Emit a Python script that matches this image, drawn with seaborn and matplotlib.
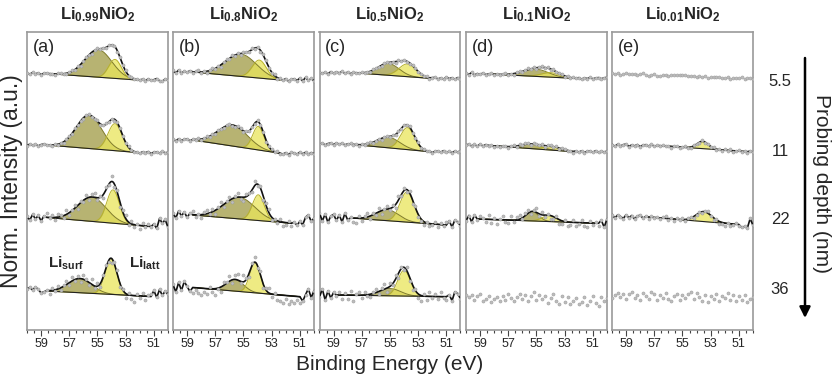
import numpy as np
import matplotlib
matplotlib.use('Agg')
import matplotlib.pyplot as plt
from matplotlib.patches import FancyArrowPatch
from matplotlib.ticker import MultipleLocator
import seaborn as sns

# Li 1s spektren, 5 proben x 4 informationstiefen
titles = [r'$\mathbf{Li_{0.99}NiO_2}$', r'$\mathbf{Li_{0.8}NiO_2}$', r'$\mathbf{Li_{0.5}NiO_2}$',
          r'$\mathbf{Li_{0.1}NiO_2}$', r'$\mathbf{Li_{0.01}NiO_2}$']
letters = ['(a)', '(b)', '(c)', '(d)', '(e)']
depths = ['5.5', '11', '22', '36']
xticks = [59, 57, 55, 53, 51]

# fit-komponenten [probe][tiefe]: position (eV), hoehe, breite (sigma)
surf_pos = [[54.94, 55.6, 55.4, 56.24], [55.18, 55.77, 55.3, 55.6], [55.1, 55.1, 55.18, 55.0],
            [55.06, 55.4, 55.3, 55.0], [55.0, 55.0, 55.0, 55.0]]
surf_amp = [[2.75, 3.33, 2.43, 1.42], [2.23, 2.1, 2.17, 1.17], [1.17, 1.06, 1.1, 0.73],
            [0.73, 0.45, 0.93, 0.0], [0.0, 0.0, 0.0, 0.0]]
surf_wid = [[0.95, 0.9, 1.0, 0.85], [1.1, 1.05, 1.1, 0.6], [0.75, 0.8, 0.8, 0.75],
            [0.9, 0.7, 0.45, 0.5], [0.5, 0.5, 0.5, 0.5]]
latt_pos = [[53.76, 53.76, 53.9, 54.04], [53.88, 53.95, 53.95, 54.18], [53.76, 53.76, 53.8, 54.0],
            [54.0, 53.88, 54.1, 54.0], [54.0, 53.57, 53.48, 54.0]]
latt_amp = [[1.9, 2.7, 3.33, 3.57], [1.8, 2.35, 2.57, 3.0], [1.27, 2.2, 3.0, 2.57],
            [0.45, 0.33, 0.6, 0.0], [0.0, 0.73, 1.0, 0.0]]
latt_wid = [[0.45, 0.5, 0.45, 0.42], [0.5, 0.4, 0.42, 0.38], [0.6, 0.5, 0.5, 0.45],
            [0.65, 0.65, 0.5, 0.5], [0.5, 0.4, 0.55, 0.5]]

# untergrund: niveau am hohen / niedrigen ende des fitbereichs
bg_hi = [[25.65, 18.5, 11.25, 3.9], [25.8, 19.0, 11.5, 4.25], [25.73, 18.6, 11.2, 3.5],
         [25.6, 18.45, 11.1, 3.25], [25.6, 18.45, 11.3, 3.4]]
bg_lo = [[25.0, 17.75, 10.35, 3.35], [25.0, 17.67, 10.67, 3.33], [25.17, 17.83, 10.5, 3.33],
         [25.17, 17.83, 10.67, 3.05], [25.2, 17.83, 10.55, 3.25]]
fit_hi = [[58.6, 58.6, 58.6, 58.6], [58.6, 58.6, 58.6, 58.6], [57.6, 58.0, 57.8, 58.8],
          [58.4, 58.4, 59.2, 60.0], [60.0, 56.8, 57.4, 60.0]]
fit_lo = [[52.2, 52.2, 51.2, 51.2], [52.4, 52.4, 51.6, 51.0], [52.2, 52.2, 51.0, 51.0],
          [52.4, 52.4, 50.6, 50.0], [50.0, 50.4, 51.0, 50.0]]
fitted = [[1, 1, 1, 1], [1, 1, 1, 1], [1, 1, 1, 1], [1, 1, 1, 0], [0, 1, 1, 0]]

# messpunkte minus fit, in 1/100, von 60 eV bis 50 eV
resid_a = [
    [5, -8, 10, -4, 6, -12, 3, 9, -6, 2, -10, 7, 12, -3, -9, 4, 15, -6, 8, -11,
     3, 10, -5, -14, 6, 11, -2, 8, -9, 13, -4, 5, -12, 7, -3, 10, -8, 4, -6, 9,
     -2, 6, -10, 12, -4, 3, 14, -8, -15, 10, -5],
    [-6, 9, -3, 7, -10, 4, 8, -5, 2, -9, 11, -4, 6, -12, 3, 9, -7, 14, -2, 5,
     -11, 8, 13, -6, -3, 10, -9, 4, 12, -5, 7, -13, 2, 9, -4, -8, 11, 3, -6, 5,
     -10, 7, -3, 9, -12, 4, 6, -7, 10, -4, 2],
    [10, -25, 30, -15, 20, -35, 15, 40, -10, 25, -30, 35, 15, -20, 40, -25, 10, 30, -40, 20,
     -15, 35, -30, 25, 45, -20, 15, -35, 30, -10, 50, -25, 20, -40, 15, 35, -30, 25, -20, 10,
     -35, 30, -15, 20, -10, 25, -20, 80, 30, 70, -10],
    [20, 35, 10, 40, 15, -20, -10, 5, -30, 20, -15, 30, -25, 10, 35, -20, 40, -10, 25, -35,
     45, 15, -30, 50, -20, 30, -40, 20, 35, -15, -45, 25, 40, -30, 10, -50, 20, -35, -60, 15,
     -25, 30, -40, 10, 20, 60, -10, 70, 10, 55, 20],
]
resid_b = [
    [15, -10, 20, -12, 8, -5, 12, -15, 6, 18, -8, 10, -14, 5, 16, -9, 12, -18, 7, 14,
     -6, 20, -12, 9, -16, 11, 5, -10, 15, -7, 12, -14, 8, 17, -9, -5, 13, -11, 6, -8,
     10, -15, 7, 12, -6, 20, -10, 25, -5, 15, -8],
    [8, -10, 12, -6, 5, 10, -12, 7, -4, 11, -8, 3, 14, -9, 6, -11, 10, 4, -13, 8,
     12, -5, -10, 9, 6, -14, 11, -3, 8, -10, 13, -6, 4, -12, 9, 7, -8, 11, -5, -10,
     6, -13, 8, 4, -9, 12, -6, 10, -12, 7, -4],
    [20, -30, 40, -10, 30, -25, 15, 35, -20, 10, -35, 25, 40, -15, 30, -40, 20, 45, -25, 10,
     35, -30, 15, 40, -20, -35, 30, 10, -25, 45, -15, 25, -40, 20, 35, -30, 10, -20, 30, -35,
     -25, 15, -30, 10, -20, 20, -15, 60, 85, 20, 50],
    [30, -45, 50, -30, 60, 10, -40, -60, -20, -50, -70, -40, -55, 20, -35, -60, -10, -45, 30, 10,
     50, -30, 40, 60, -20, 70, 15, -40, 30, 50, -25, 40, -35, 20, 45, -30, 10, -50, -60, -75,
     -40, -80, -55, -70, -35, -60, -45, 20, 80, -10, 60],
]
resid_c = [
    [6, -8, 4, -12, 10, -5, 8, -3, 12, -7, 5, -10, 9, 3, -6, 11, -8, 4, -11, 7,
     10, -4, -9, 6, 12, -7, 3, -10, 8, -5, 11, -3, -12, 6, 9, -8, 4, -6, 10, -11,
     5, 8, -7, 3, -9, 12, -4, 6, -10, 7, -3],
    [-5, 8, -10, 4, 9, -6, 11, -3, 7, -9, 3, 10, -7, 5, -12, 8, -4, 6, 11, -8,
     -3, 9, -11, 6, 4, -9, 12, -5, 7, -10, 8, -4, 10, -7, -3, 11, -8, 5, -6, 9,
     -10, 4, 7, -5, 10, -8, 3, -11, 6, -4, 8],
    [50, -30, 40, -45, 20, 35, -25, 30, -40, 45, -20, 10, -35, -50, 25, -30, 15, 35, -25, 20,
     -15, 40, -30, 10, 35, -20, 25, -35, 45, -10, 30, -25, 20, -40, 15, -30, -20, -35, 10, -25,
     -15, 20, -30, 15, -10, 25, 40, -20, 50, 30, -10],
    [-20, 60, -50, 40, -30, 25, -15, 30, -40, 20, -35, 45, -60, 15, 30, -25, 35, -10, -30, 20,
     40, -20, 25, 50, -35, 30, -15, 40, -45, 20, -25, 35, -30, -50, 15, -40, -55, 25, -35, 40,
     -20, 30, -25, 45, -15, -30, 20, -40, 50, 30, -20],
]
resid_d = [
    [8, -6, 15, -10, 4, -5, 9, -7, 3, 10, -4, 8, -9, 5, 12, -6, 3, -10, 7, 11,
     -5, 9, 14, -3, 8, -11, 6, 12, -4, 7, -9, 10, -5, 3, 11, -7, 4, -8, 9, -3,
     6, -10, 5, -4, 8, -6, 3, 7, -5, 4, 10],
    [6, 12, -5, 10, -8, 14, -6, 9, -10, 3, -7, 5, -9, 8, 4, -11, 7, 10, -6, 12,
     -4, 9, 6, -8, 11, 3, -5, 10, -9, 7, 12, -4, 8, -10, 5, 9, -7, 3, -11, 6,
     -5, 8, -9, 4, 7, -6, 10, -8, 5, -4, 6],
    [-20, 35, -30, 40, -10, 30, 15, -25, 45, -35, 20, -40, 10, 35, -20, -30, 40, -15, 25, 45,
     -10, 30, 35, -20, 15, 40, -25, 30, -15, 10, -35, -20, 25, -40, -30, 15, -45, -25, 20, -35,
     -10, 25, -30, -40, 15, -20, 10, -25, 30, -40, 45],
    [30, 10, 25, -20, 15, 35, -30, -10, 20, -40, -15, 10, -35, 25, -20, 40, 5, -30, 15, 45,
     -10, 30, -25, 20, 60, -15, 35, -5, 25, -40, 10, 45, -20, -50, 30, -35, 15, -55, -20, 10,
     -45, -25, 20, -60, -15, 35, -40, -70, 25, -20, 15],
]
resid_e = [
    [10, 5, 15, -5, 8, 12, 0, 10, 6, -3, 8, 14, 2, -6, 4, 10, -8, -4, 2, 6,
     -5, 3, 8, 12, 5, 15, 10, -2, 6, 0, -5, 3, -8, 2, -10, -4, -6, 4, -2, -10,
     -6, 0, -12, -5, -8, -3, 2, -10, -4, -2, -6],
    [10, -8, 12, -5, 8, 14, -10, 6, -4, 9, -12, 5, 8, -7, 11, -9, 4, -6, 10, -3,
     7, -11, 5, 9, -8, 3, 12, -6, -10, 8, 4, -7, 10, -12, 6, -4, 9, -8, 5, -10,
     7, -5, 11, -9, 3, 8, -6, 4, -10, 6, -4],
    [25, -10, 20, 5, -15, 22, -8, 15, -20, 10, 18, -12, 6, -18, 14, -5, 10, -15, 8, 20,
     -10, 5, -14, 12, -6, 18, -12, 8, 15, -10, -4, 12, -16, 6, 20, -8, -18, 10, -22, -15,
     -25, 5, -20, -10, 8, -15, -30, -20, -35, 60, -10],
    [-20, 15, 35, -10, 25, -30, 20, 40, -15, 10, -35, 30, 5, -25, 45, 20, -40, 15, -10, 35,
     -20, -45, 10, 25, -30, 15, -15, 30, 50, -25, 40, -5, -40, 20, -50, 10, -20, 30, -35, 15,
     -10, 45, -25, 20, -40, 10, -30, 25, -45, -15, 5],
]
resid = [resid_a, resid_b, resid_c, resid_d, resid_e]

surf_fc, surf_ec = '#aba659', '#7f7b2c'
latt_fc, latt_ec = '#e9e55a', '#b8b228'
dot_c = '#bdbdbd'


def gauss(e, pos, amp, wid):
    return amp * np.exp(-0.5 * ((e - pos) / wid) ** 2)


def backgr(e, hi_e, lo_e, hi, lo):
    t = np.clip((hi_e - e) / (hi_e - lo_e), 0, 1)
    return hi + (lo - hi) * t


sns.set_theme(style='white')
plt.rcParams['font.family'] = ['Liberation Sans', 'DejaVu Sans']
plt.rcParams['mathtext.fontset'] = 'custom'
plt.rcParams['mathtext.rm'] = 'Liberation Sans'
plt.rcParams['mathtext.bf'] = 'Liberation Sans:bold'
plt.rcParams['mathtext.it'] = 'Liberation Sans:italic'

W, H = 832, 380
fig = plt.figure(figsize=(W / 100, H / 100), dpi=100)
lefts = [27, 173, 319.5, 466, 612]

for p in range(5):
    ax = fig.add_axes([lefts[p] / W, 1 - 330 / H, 141 / W, 298 / H])
    for r in range(4):
        rv = np.array(resid[p][r]) / 100
        e = np.linspace(60, 50, len(rv))
        hi_e, lo_e = fit_hi[p][r], fit_lo[p][r]
        args = (hi_e, lo_e, bg_hi[p][r], bg_lo[p][r])
        fit = (backgr(e, *args) + gauss(e, surf_pos[p][r], surf_amp[p][r], surf_wid[p][r])
               + gauss(e, latt_pos[p][r], latt_amp[p][r], latt_wid[p][r]))
        meas = fit + rv

        if fitted[p][r]:
            ef = np.linspace(hi_e, lo_e, 200)
            bgf = backgr(ef, *args)
            sf = gauss(ef, surf_pos[p][r], surf_amp[p][r], surf_wid[p][r])
            lf = gauss(ef, latt_pos[p][r], latt_amp[p][r], latt_wid[p][r])
            if surf_amp[p][r] > 0:
                ax.fill_between(ef, bgf, bgf + sf, color=surf_fc, alpha=0.85, lw=0, zorder=1)
                ax.plot(ef, bgf + sf, color=surf_ec, lw=0.7, zorder=2)
            if latt_amp[p][r] > 0:
                ax.fill_between(ef, bgf, bgf + lf, color=latt_fc, alpha=0.75, lw=0, zorder=1.5)
                ax.plot(ef, bgf + lf, color=latt_ec, lw=0.7, zorder=2)
            ax.plot(ef, bgf, color='#222222', lw=0.8, zorder=2.5)
            left = e > hi_e + 1e-6
            right = e < lo_e - 1e-6
            lx = np.concatenate([e[left], ef, e[right]])
            ly = np.concatenate([meas[left], bgf + sf + lf, meas[right]])
            sns.lineplot(x=lx, y=ly, ax=ax, color='#111111', lw=1.2, sort=False,
                         estimator=None, zorder=3)
        sns.scatterplot(x=e, y=meas, ax=ax, color=dot_c, s=5, edgecolor='#9a9a9a',
                        linewidth=0.35, zorder=4, legend=False)

    ax.set_xlim(60, 50)
    ax.set_ylim(0, 29.8)
    ax.set_yticks([])
    ax.set_xticks(xticks)
    ax.xaxis.set_minor_locator(MultipleLocator(0.5))
    ax.tick_params(axis='x', which='both', bottom=True, direction='out', color='#444444',
                   width=0.8)
    ax.tick_params(axis='x', which='major', length=4, labelsize=9, pad=2)
    ax.tick_params(axis='x', which='minor', length=2)
    for s in ax.spines.values():
        s.set_color('#9a9a9a')
        s.set_linewidth(1.2)
    ax.text(0.04, 0.975, letters[p], transform=ax.transAxes, ha='left', va='top', fontsize=13)
    ax.text(0.5, 1.057, titles[p], transform=ax.transAxes, ha='center', va='center', fontsize=12)
    if p == 0:
        ax.text(58.5, 6.7, r'$\mathbf{Li_{surf}}$', ha='left', va='center', fontsize=11)
        ax.text(52.8, 6.7, r'$\mathbf{Li_{latt}}$', ha='left', va='center', fontsize=11)

for d, yy in zip(depths, [82, 152, 220, 289]):
    fig.text(780 / W, 1 - yy / H, d, ha='center', va='center', fontsize=12)

fig.add_artist(FancyArrowPatch((805 / W, 1 - 58 / H), (805 / W, 1 - 318 / H),
                               transform=fig.transFigure, arrowstyle='-|>', mutation_scale=16,
                               lw=1.8, color='black', shrinkA=0, shrinkB=0))
fig.text(822 / W, 1 - 183 / H, 'Probing depth (nm)', rotation=-90, ha='center', va='center',
         fontsize=15)
fig.text(12 / W, 1 - 181 / H, 'Norm. Intensity (a.u.)', rotation=90, ha='center', va='center',
         fontsize=16.5)
fig.text(390 / W, 1 - 365 / H, 'Binding Energy (eV)', ha='center', va='center', fontsize=15)

fig.savefig('out.png', dpi=100)
